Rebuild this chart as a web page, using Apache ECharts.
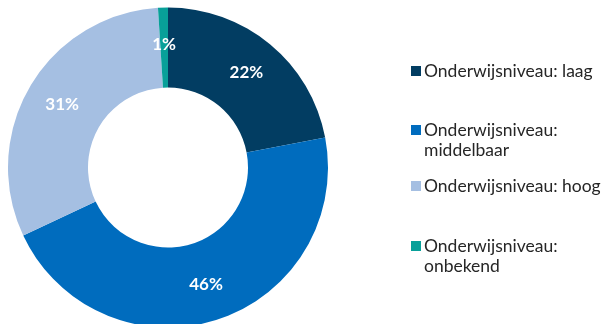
<!DOCTYPE html>
<html>
<head>
<meta charset="utf-8">
<script src="https://cdn.jsdelivr.net/npm/echarts@6/dist/echarts.min.js"></script>
<style>
  html, body { margin: 0; padding: 0; background: #fff; }
  #chart { width: 608px; height: 324px; }
</style>
</head>
<body>
<div id="chart"></div>
<script>
// Education level shares (percent)
const categories = [
  'Onderwijsniveau: laag',
  'Onderwijsniveau: middelbaar',
  'Onderwijsniveau: hoog',
  'Onderwijsniveau: onbekend'
];
const legendLabels = [
  'Onderwijsniveau: laag',
  'Onderwijsniveau:\nmiddelbaar',
  'Onderwijsniveau: hoog',
  'Onderwijsniveau:\nonbekend'
];
const values = [22, 46, 31, 1];
const colors = ['#023D62', '#006CBE', '#A5BFE2', '#08A099'];

const FONT = 'Lato, "Open Sans", sans-serif';

// Square marker; the two-line entries get a taller box so the square sits on the first line
const squareIcon = 'path://M0,0L10,0L10,10L0,10Z';
const squareIconTall = 'path://M0,0L10,0L10,10L0,10Z M0,30L0.01,30';

const legendTops = [61, 120, 176, 236];
const legendLines = [1, 2, 1, 2];

const legends = categories.map((name, i) => ({
  data: [name],
  left: 411,
  top: legendTops[i],
  orient: 'vertical',
  icon: legendLines[i] === 2 ? squareIconTall : squareIcon,
  itemWidth: 10,
  itemHeight: legendLines[i] === 2 ? 30 : 10,
  itemGap: 0,
  padding: 0,
  selectedMode: false,
  formatter: () => legendLabels[i],
  textStyle: {
    fontFamily: FONT,
    fontSize: 17.5,
    lineHeight: 20,
    color: '#262626',
    padding: [0, 0, 0, -2]
  }
}));

const chart = echarts.init(document.getElementById('chart'), null, { renderer: 'canvas' });
chart.setOption({
  animation: false,
  backgroundColor: '#ffffff',
  color: colors,
  legend: legends,
  series: [{
    type: 'pie',
    center: [168, 167.5],
    radius: [80, 160],
    startAngle: 90,
    clockwise: true,
    avoidLabelOverlap: false,
    itemStyle: { borderWidth: 0 },
    label: {
      show: true,
      position: 'inside',
      formatter: p => p.value + '%',
      color: '#ffffff',
      fontFamily: FONT,
      fontWeight: 'bold',
      fontSize: 17,
      padding: [3, 0, 0, 0]
    },
    labelLine: { show: false },
    emphasis: { disabled: true },
    data: categories.map((name, i) => ({ name, value: values[i] }))
  }]
});
</script>
</body>
</html>
